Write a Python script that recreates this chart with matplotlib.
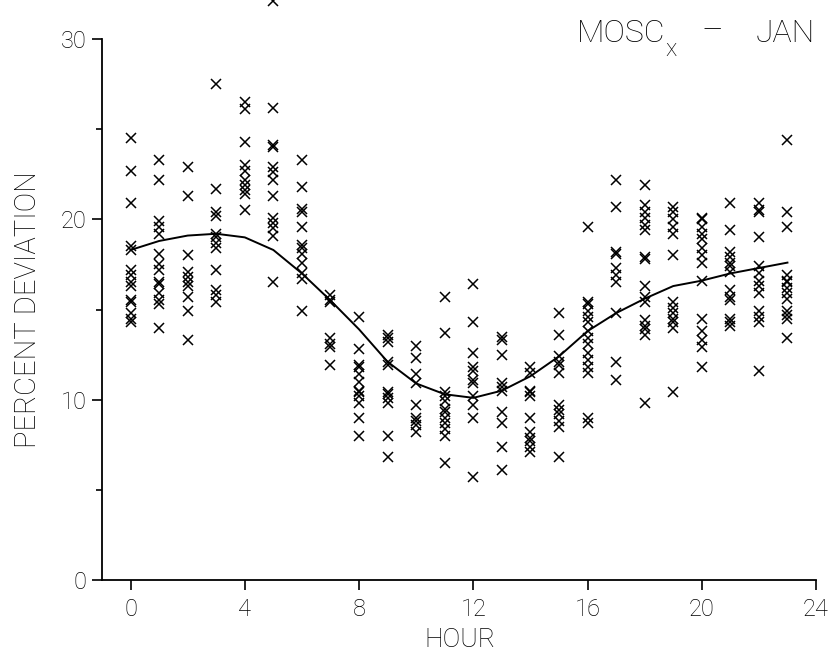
import numpy as np
import matplotlib
matplotlib.use("Agg")
import matplotlib.pyplot as plt

plt.rcParams["font.family"] = ["Roboto", "DejaVu Sans"]
plt.rcParams["font.weight"] = "light"

# Heures et écarts relevés (en %) pour chaque heure
heures = list(range(24))

ecarts = [
    [24.5, 22.7, 20.9, 18.5, 18.3, 17.2, 16.9, 16.5, 16.3, 15.5, 15.4, 14.8, 14.5, 14.3],
    [23.3, 22.2, 19.9, 19.6, 19.2, 18.1, 17.5, 17.2, 16.5, 16.4, 15.9, 15.5, 15.3, 14.0],
    [22.9, 21.3, 18.0, 17.1, 16.8, 16.5, 16.3, 15.7, 14.9, 13.3],
    [27.5, 21.7, 20.4, 20.2, 19.2, 19.0, 18.7, 18.4, 17.2, 16.1, 15.8, 15.4],
    [26.5, 26.1, 24.3, 23.0, 22.7, 22.2, 21.9, 21.6, 21.4, 20.5],
    [32.1, 26.2, 24.1, 24.0, 22.9, 22.6, 22.2, 21.3, 20.1, 19.8, 19.5, 19.1, 16.5],
    [23.3, 21.8, 20.6, 20.4, 19.6, 18.6, 18.4, 18.1, 17.6, 17.0, 16.7, 14.9],
    [15.8, 15.5, 15.4, 13.4, 13.1, 12.9, 11.9],
    [14.6, 12.8, 11.9, 11.8, 11.4, 11.0, 10.5, 10.4, 10.2, 9.8, 9.0, 8.0],
    [13.6, 13.4, 13.2, 12.1, 11.9, 10.4, 10.3, 10.1, 9.8, 8.0, 6.8],
    [13.0, 12.3, 11.4, 10.9, 9.7, 9.0, 8.8, 8.6, 8.2],
    [15.7, 13.7, 10.4, 10.2, 9.9, 9.5, 9.3, 9.0, 8.7, 8.4, 8.0, 6.5],
    [16.4, 14.3, 12.6, 11.8, 11.6, 11.1, 10.9, 10.2, 9.7, 9.0, 5.7],
    [13.5, 13.3, 12.5, 10.9, 10.7, 10.5, 9.3, 8.7, 7.4, 6.1],
    [11.8, 11.5, 10.5, 10.4, 10.2, 9.0, 8.2, 7.9, 7.7, 7.4, 7.1],
    [14.8, 13.6, 12.4, 12.1, 11.9, 11.5, 9.7, 9.4, 9.2, 8.8, 8.5, 6.8],
    [19.6, 15.4, 15.3, 14.9, 14.6, 14.3, 13.8, 13.4, 13.1, 12.6, 12.2, 11.8, 11.5, 9.0, 8.7],
    [22.2, 20.7, 18.2, 18.1, 17.3, 16.9, 16.5, 14.8, 12.1, 11.1],
    [21.9, 20.8, 20.4, 20.1, 19.7, 19.4, 17.9, 17.8, 16.3, 15.7, 15.4, 14.4, 14.1, 13.9, 13.6, 9.8],
    [20.7, 20.4, 20.0, 19.6, 19.2, 18.0, 15.4, 15.1, 14.8, 14.5, 14.3, 14.0, 10.4],
    [20.1, 20.0, 19.6, 19.2, 18.9, 18.4, 18.0, 17.6, 16.6, 14.5, 13.8, 13.3, 12.9, 11.8],
    [20.9, 19.4, 18.2, 17.9, 17.6, 17.4, 17.1, 16.1, 15.7, 15.5, 14.5, 14.3, 14.1],
    [20.9, 20.5, 20.4, 19.0, 17.4, 17.0, 16.6, 16.3, 15.9, 14.9, 14.6, 14.3, 11.6],
    [24.4, 20.4, 19.6, 16.9, 16.6, 16.5, 16.2, 15.9, 15.6, 14.9, 14.7, 14.5, 13.4],
]

# Courbe moyenne lissée
courbe = [18.3, 18.8, 19.1, 19.2, 19.0, 18.3, 17.0, 15.5, 13.9, 12.1, 10.9, 10.3,
          10.1, 10.5, 11.3, 12.4, 13.8, 14.8, 15.6, 16.3, 16.6, 17.0, 17.3, 17.6]

x_ticks = [0, 4, 8, 12, 16, 20, 24]
y_ticks = [0, 10, 20, 30]
y_minor = [5, 15, 25]

fig = plt.figure(figsize=(8.36, 6.51), dpi=100)
ax = fig.add_axes([102 / 836, 1 - 580 / 651, 714 / 836, 541 / 651])

for h, valeurs in zip(heures, ecarts):
    ax.plot([h] * len(valeurs), valeurs, linestyle="none", marker="x",
            markersize=7.5, markeredgewidth=1.1, color="black", clip_on=False)

ax.plot(heures, courbe, color="black", linewidth=1.4)

ax.set_xlim(-1, 24)
ax.set_ylim(0, 30)
ax.set_xticks(x_ticks)
ax.set_yticks(y_ticks)
ax.set_yticks(y_minor, minor=True)
ax.set_xticklabels([str(t) for t in x_ticks])
ax.set_yticklabels([str(t) for t in y_ticks])

for cote in ["top", "right"]:
    ax.spines[cote].set_visible(False)
for cote in ["left", "bottom"]:
    ax.spines[cote].set_linewidth(1.3)

ax.tick_params(axis="both", which="major", direction="out", length=7,
               width=1.2, labelsize=17, pad=6, labelcolor="black")
ax.tick_params(axis="y", which="minor", direction="out", length=4, width=1.2)
ax.tick_params(axis="y", which="major", pad=4)

# Libellés des axes
fig.text(28 / 836, 0.525, "PERCENT DEVIATION", rotation=90,
         ha="center", va="center", fontsize=21)
fig.text(460 / 836, 1 - 647 / 651, "HOUR", ha="center", va="baseline",
         fontsize=19)

# Titre en haut à droite
fig.text(577 / 836, 1 - 42 / 651, "MOSC", ha="left", va="baseline", fontsize=23)
fig.text(665 / 836, 1 - 56 / 651, "x", ha="left", va="baseline", fontsize=17)
fig.text(712 / 836, 1 - 41 / 651, "\u2013", ha="center", va="baseline", fontsize=24)
fig.text(815 / 836, 1 - 42 / 651, "JAN", ha="right", va="baseline", fontsize=23)

fig.savefig("out.png", dpi=100)
